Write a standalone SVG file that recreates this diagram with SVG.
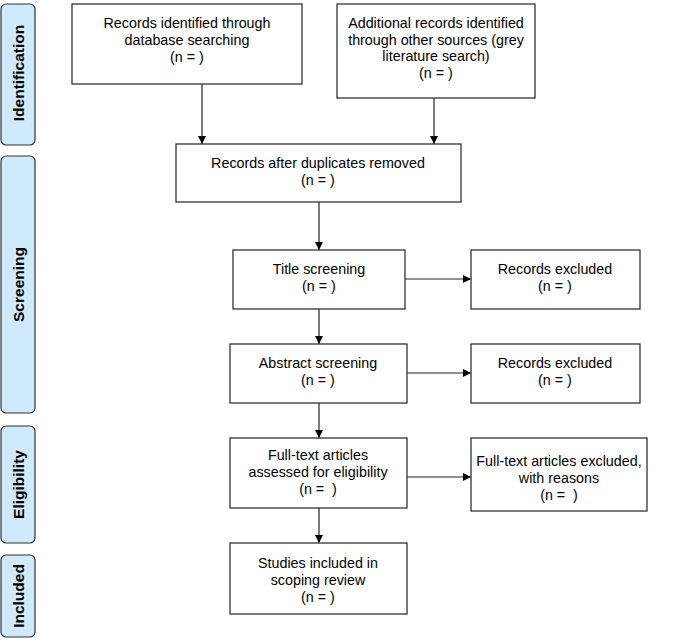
<svg xmlns="http://www.w3.org/2000/svg" width="685" height="638" viewBox="0 0 685 638">
<style>
.side{fill:#cfe9fd;stroke:#333;stroke-width:1.2}
.box{fill:#fff;stroke:#333;stroke-width:1.3}
.st{font-family:"Liberation Sans",Arial,sans-serif;font-size:15.5px;font-weight:bold;fill:#000;text-anchor:middle}
.t{font-family:"Liberation Sans",Arial,sans-serif;font-size:14.3px;fill:#000;text-anchor:middle}
.c{fill:none;stroke:#222;stroke-width:1.2;marker-end:url(#ah)}
</style>
<defs>
<marker id="ah" viewBox="0 0 10 10" refX="10" refY="5" markerWidth="8" markerHeight="8" markerUnits="userSpaceOnUse" orient="auto">
<path d="M0,0 L10,5 L0,10 Z" fill="#000"/>
</marker>
</defs>
<rect width="685" height="638" fill="#fff"/>
<g id="side-identification"><rect class="side" x="1" y="4" width="34" height="141" rx="5"/><text class="st" transform="translate(24,73) rotate(-90)">Identification</text></g>
<g id="side-screening"><rect class="side" x="1" y="156" width="34" height="257" rx="5"/><text class="st" transform="translate(24,284.5) rotate(-90)">Screening</text></g>
<g id="side-eligibility"><rect class="side" x="1" y="426" width="34" height="117" rx="5"/><text class="st" transform="translate(24,484.5) rotate(-90)">Eligibility</text></g>
<g id="side-included"><rect class="side" x="1" y="555" width="34" height="82" rx="5"/><text class="st" transform="translate(24,596) rotate(-90)">Included</text></g>
<g id="connectors">
<path class="c" d="M202,84 V144"/>
<path class="c" d="M434,98 V144"/>
<path class="c" d="M319,202 V250"/>
<path class="c" d="M319,309 V344"/>
<path class="c" d="M319,403 V438"/>
<path class="c" d="M319,508 V543"/>
<path class="c" d="M405,279 H471"/>
<path class="c" d="M407,373 H471"/>
<path class="c" d="M407,477 H471"/>
</g>
<g id="n-database"><rect class="box" x="72" y="4" width="230" height="80"/><text class="t" x="187" y="28">Records identified through</text><text class="t" x="187" y="45">database searching</text><text class="t" x="187" y="62">(n = )</text></g>
<g id="n-other"><rect class="box" x="337" y="4" width="198" height="94"/><text class="t" x="436" y="28">Additional records identified</text><text class="t" x="436" y="45">through other sources (grey</text><text class="t" x="436" y="61">literature search)</text><text class="t" x="436" y="78">(n = )</text></g>
<g id="n-dedup"><rect class="box" x="176" y="144" width="285" height="58"/><text class="t" x="318" y="168">Records after duplicates removed</text><text class="t" x="318" y="185">(n = )</text></g>
<g id="n-title"><rect class="box" x="233" y="250" width="172" height="59"/><text class="t" x="319" y="274">Title screening</text><text class="t" x="319" y="291">(n = )</text></g>
<g id="n-excl1"><rect class="box" x="471" y="250" width="169" height="59"/><text class="t" x="555" y="274">Records excluded</text><text class="t" x="555" y="291">(n = )</text></g>
<g id="n-abstract"><rect class="box" x="230" y="344" width="177" height="59"/><text class="t" x="318" y="368">Abstract screening</text><text class="t" x="318" y="385">(n = )</text></g>
<g id="n-excl2"><rect class="box" x="471" y="344" width="169" height="59"/><text class="t" x="555" y="368">Records excluded</text><text class="t" x="555" y="385">(n = )</text></g>
<g id="n-fulltext"><rect class="box" x="230" y="438" width="177" height="70"/><text class="t" x="318" y="460">Full-text articles</text><text class="t" x="318" y="477">assessed for eligibility</text><text class="t" x="318" y="494" xml:space="preserve">(n =  )</text></g>
<g id="n-excl3"><rect class="box" x="471" y="438" width="176" height="73"/><text class="t" x="559" y="466">Full-text articles excluded,</text><text class="t" x="559" y="483">with reasons</text><text class="t" x="559" y="500" xml:space="preserve">(n =  )</text></g>
<g id="n-included"><rect class="box" x="230" y="543" width="177" height="71"/><text class="t" x="318" y="568">Studies included in</text><text class="t" x="318" y="585">scoping review</text><text class="t" x="318" y="602">(n = )</text></g>
</svg>
